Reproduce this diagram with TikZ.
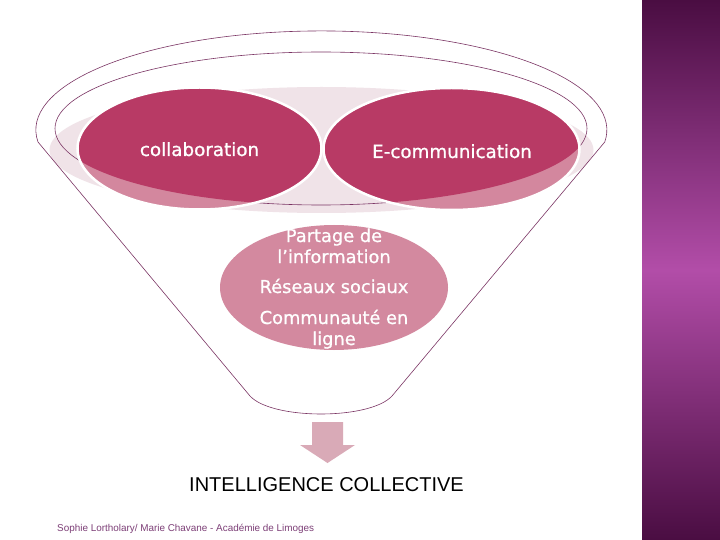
\documentclass[tikz,border=0pt]{standalone}
\usepackage{fontspec}
\setmainfont{DejaVu Sans}
\newfontfamily\libsans{Liberation Sans}
\newfontfamily\labfont[FakeBold=0.9]{DejaVu Sans}
\definecolor{funline}{HTML}{7B3564}
\definecolor{darkpink}{HTML}{B83A65}
\definecolor{lightpink}{HTML}{D3879E}
\definecolor{midpink}{HTML}{D3899F}
\definecolor{bgpink}{HTML}{F0E3E8}
\definecolor{arrowpink}{HTML}{D9AAB7}
\definecolor{footcol}{HTML}{7D3F77}
\definecolor{barD}{HTML}{4A0D42}
\definecolor{barL}{HTML}{B24DA8}
\begin{document}
\begin{tikzpicture}[x=1pt,y=-1pt,
  funnel/.style={draw=funline, line width=0.6pt},
  toplbl/.style={text=white, font=\labfont\fontsize{18.3}{21}\selectfont, anchor=base, inner sep=0pt},
  midlbl/.style={text=white, font=\labfont\fontsize{17.8}{21}\selectfont, anchor=base, inner sep=0pt},
  biglbl/.style={text=black, font=\libsans\fontsize{20}{24}\selectfont, anchor=base, inner sep=0pt},
  footlbl/.style={text=footcol, font=\libsans\fontsize{9.9}{12}\selectfont, anchor=base west, inner sep=0pt}]
\useasboundingbox (0,0) rectangle (720,540);
\fill[white] (0,0) rectangle (720,540);
% right bar
\shade[top color=barD, bottom color=barD, middle color=barL] (642,0) rectangle (720,540);
% light background ellipse
\fill[bgpink] (321.5,150) ellipse [x radius=272, y radius=63];
% inner rim ellipse
\draw[funnel] (321,128.5) ellipse [x radius=266, y radius=76.5];
% funnel outline
\draw[funnel] (38,142) arc[start angle=173, end angle=367, x radius=285.5, y radius=99]
  -- (392,396) .. controls (370,420) and (272,420) .. (250,396) -- cycle;
% collaboration ellipse
\fill[lightpink] (199.5,148.5) ellipse [x radius=122, y radius=61];
\begin{scope}
  \clip (321,128.5) ellipse [x radius=266, y radius=76.5];
  \fill[darkpink] (199.5,148.5) ellipse [x radius=122, y radius=61];
\end{scope}
\draw[white, line width=2.5pt] (199.5,148.5) ellipse [x radius=122, y radius=61];
% e-communication ellipse
\fill[lightpink] (451.5,149) ellipse [x radius=128, y radius=61];
\begin{scope}
  \clip (321,128.5) ellipse [x radius=266, y radius=76.5];
  \fill[darkpink] (451.5,149) ellipse [x radius=128, y radius=61];
\end{scope}
\draw[white, line width=2.5pt] (451.5,149) ellipse [x radius=128, y radius=61];
% middle ellipse
\fill[midpink] (334,287.5) ellipse [x radius=114, y radius=62.5];
% labels
\node[toplbl] (collab) at (199.5,156) {collaboration};
\node[toplbl] (ecomm) at (452,158) {E-communication};
\node[midlbl] (part1) at (334,242) {Partage de};
\node[midlbl] (part2) at (334,263) {l’information};
\node[midlbl] (reseaux) at (334,293) {Réseaux sociaux};
\node[midlbl] (comm1) at (334,324) {Communauté en};
\node[midlbl] (comm2) at (334,345) {ligne};
% arrow
\fill[arrowpink] (312,422) -- (343,422) -- (343,445) -- (355,445) -- (327.5,463)
  -- (300,445) -- (312,445) -- cycle;
\node[biglbl] (intel) at (326.5,491) {INTELLIGENCE COLLECTIVE};
\node[footlbl] (foot) at (57,531) {Sophie Lortholary/ Marie Chavane - Académie de Limoges};
\end{tikzpicture}
\end{document}
